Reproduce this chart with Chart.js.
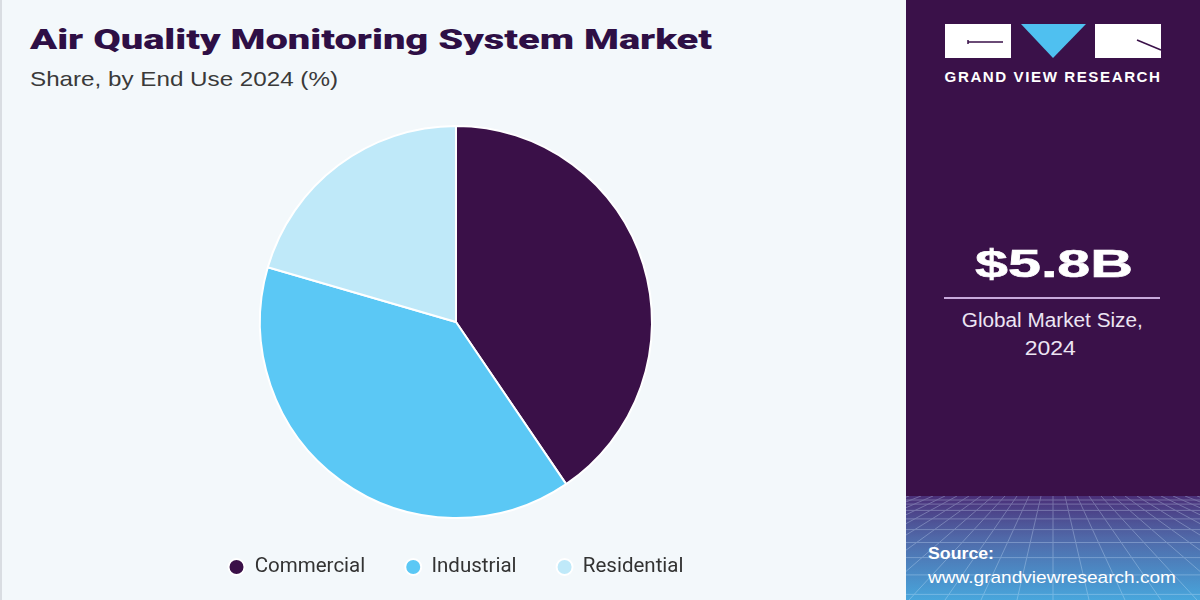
<!DOCTYPE html>
<html>
<head>
<meta charset="utf-8">
<script src="https://cdn.jsdelivr.net/npm/chart.js@4.4.1/dist/chart.umd.min.js"></script>
<style>
  html, body { margin: 0; padding: 0; }
  body { width: 1200px; height: 600px; position: relative; overflow: hidden; background: #f3f8fb; font-family: Roboto, "Liberation Sans", sans-serif; }
  #leftBorder { position: absolute; left: 0; top: 0; width: 2px; height: 600px; background: #d9dde2; }
  .t { position: absolute; white-space: nowrap; line-height: 1; }
  #title { left: 30px; top: 26px; font-family: Roboto, sans-serif; font-weight: 900; font-size: 28px; color: #2e0f45; transform-origin: left top; }
  #subtitle { left: 30px; top: 68px; font-family: "Liberation Sans", Arial, sans-serif; font-size: 21px; color: #3a3a3a; transform-origin: left top; }
  #chartWrap { position: absolute; left: 0; top: 110px; width: 912px; height: 480px; }
  #panel { position: absolute; left: 906px; top: 0; width: 294px; height: 600px; background: #3a1149; overflow: hidden; }
  #panelBottom { position: absolute; left: 0; top: 496px; width: 294px; height: 104px; background: linear-gradient(#4a2f78 0%, #5068a8 40%, #48a6dc 100%); }
  #logo { position: absolute; left: 0; top: 0; }
  .c { transform-origin: center top; }
  #gvr { color: #fff; font-family: "Liberation Sans", Arial, sans-serif; font-weight: 700; font-size: 14.5px; letter-spacing: 1.5px; }
  #big { color: #fff; font-family: "Liberation Sans", Arial, sans-serif; font-weight: 700; font-size: 39px; -webkit-text-stroke: 0.6px #fff; }
  #rule { position: absolute; left: 38px; width: 216px; top: 297px; height: 2px; background: #c8a9dc; }
  .g { color: #ece5f3; font-family: "Liberation Sans", Arial, sans-serif; font-size: 20px; }
  #src1 { color: #fff; font-family: "Liberation Sans", Arial, sans-serif; font-weight: 700; font-size: 17px; transform-origin: left top; }
  #src2 { color: #fff; font-family: "Liberation Sans", Arial, sans-serif; font-size: 17px; transform-origin: left top; }
</style>
</head>
<body>
<div id="leftBorder"></div>
<div id="title" class="t">Air Quality Monitoring System Market</div>
<div id="subtitle" class="t">Share, by End Use 2024 (%)</div>
<div id="chartWrap"><canvas id="c"></canvas></div>
<div id="panel">
  <div id="panelBottom">
    <svg width="294" height="104" style="position:absolute;left:0;top:0;opacity:0.3">
      <g stroke="#d8ecff" stroke-width="1" fill="none" id="grid"></g>
    </svg>
  </div>
  <svg id="logo" width="294" height="70">
    <rect x="39" y="24" width="66" height="34" fill="#fff"/>
    <path d="M62 42 H97 M62 40 V44" stroke="#3a1149" stroke-width="1.5"/>
    <polygon points="115,24 180,24 147,58" fill="#4fc0f0"/>
    <rect x="189" y="24" width="66" height="34" fill="#fff"/>
    <path d="M231 40 L255 50" stroke="#3a1149" stroke-width="1.5"/>
  </svg>
  <div id="gvr" class="t c"></div>
  <div id="big" class="t c"></div>
  <div id="rule"></div>
  <div id="gms1" class="t c g"></div>
  <div id="gms2" class="t c g"></div>
  <div id="src1" class="t">Source:</div>
  <div id="src2" class="t">www.grandviewresearch.com</div>
</div>
<script>
const categories = ["Commercial", "Industrial", "Residential"];
const shareValues = [40.5, 39.0, 20.5];
const sliceColors = ["#3a1048", "#5bc8f5", "#bfe9f9"];
const marketSize = "$5.8B";
const marketLabel = ["Global Market Size,", "2024"];

document.getElementById('gvr').textContent = "GRAND VIEW RESEARCH";
document.getElementById('big').textContent = marketSize;
document.getElementById('gms1').textContent = marketLabel[0];
document.getElementById('gms2').textContent = marketLabel[1];

// decorative perspective grid in the panel footer
(function(){
  const g = document.getElementById('grid');
  let s = '';
  for (let i = 0; i < 10; i++) { const y = 4 + i * i * 1.1 + i * 3; s += `<line x1="0" y1="${y}" x2="294" y2="${y}"/>`; }
  for (let i = -12; i <= 24; i++) { const x0 = 147 + i * 12; const x1 = 147 + i * 36; s += `<line x1="${x0}" y1="0" x2="${x1}" y2="104"/>`; }
  g.innerHTML = s;
})();

function placeText(id, x, baseline, width, centred) {
  const el = document.getElementById(id);
  const fs = parseFloat(getComputedStyle(el).fontSize);
  const isRoboto = getComputedStyle(el).fontFamily.indexOf('Roboto') === 0;
  const asc = isRoboto ? (0.927 - 0.0855) : (0.905 - 0.0585);
  el.style.top = (baseline - asc * fs) + 'px';
  const w = el.getBoundingClientRect().width;
  const s = width / w;
  el.style.left = (centred ? (x - w / 2) : x) + 'px';
  el.style.transform = `scaleX(${s})`;
}
placeText('title', 30, 49.5, 682, false);
placeText('subtitle', 30, 86, 308, false);
placeText('gvr', 147, 82, 217, true);
placeText('big', 148, 277, 158, true);
placeText('gms1', 146.5, 327, 181, true);
placeText('gms2', 144.5, 355, 51, true);
placeText('src1', 22, 559, 66, false);
placeText('src2', 22, 583, 248, false);

new Chart(document.getElementById('c'), {
  type: 'pie',
  data: {
    labels: categories,
    datasets: [{
      data: shareValues,
      backgroundColor: sliceColors,
      borderColor: '#ffffff',
      borderWidth: 2,
      hoverOffset: 0,
      radius: 196
    }]
  },
  options: {
    responsive: true,
    maintainAspectRatio: false,
    animation: false,
    layout: { padding: { top: 17.25, bottom: 2.75 } },
    plugins: {
      tooltip: { enabled: false },
      legend: {
        position: 'bottom',
        labels: {
          usePointStyle: true,
          pointStyle: 'circle',
          pointStyleWidth: 16,
          boxHeight: 11.3,
          padding: 40,
          color: '#333333',
          font: { family: 'Roboto', size: 20.5 }
        }
      }
    }
  }
});
</script>
</body>
</html>
